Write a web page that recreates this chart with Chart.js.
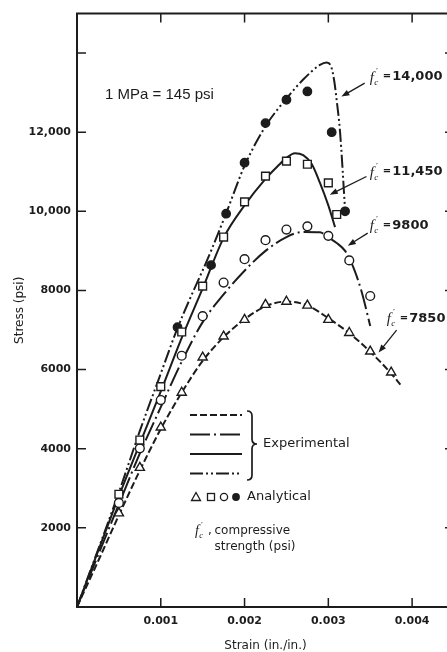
<!DOCTYPE html>
<html>
<head>
<meta charset="utf-8">
<script src="https://cdn.jsdelivr.net/npm/chart.js@4.4.1/dist/chart.umd.min.js"></script>
<style>
  html, body { margin: 0; padding: 0; background: #fff; overflow: hidden; }
  #wrap { width: 470px; height: 652px; }
</style>
</head>
<body>
<div id="wrap"><canvas id="chart" width="470" height="652"></canvas></div>
<script>
// Experimental curves: strain (in./in.) vs stress (psi), one pair per concrete strength
const strain7850 = [0, 0.00025, 0.0005, 0.00075, 0.001, 0.00125, 0.0015, 0.00175, 0.002, 0.00225, 0.0025, 0.00275, 0.003, 0.00325, 0.0035, 0.00375, 0.00386];
const stress7850 = [0, 1150, 2320, 3450, 4500, 5420, 6220, 6820, 7270, 7600, 7720, 7620, 7300, 6920, 6450, 5900, 5620];

const strain9800 = [0, 0.0005, 0.00075, 0.001, 0.00125, 0.0015, 0.00175, 0.002, 0.00225, 0.0025, 0.0027, 0.0029, 0.003, 0.0031, 0.0032, 0.0033, 0.0034, 0.0035];
const stress9800 = [0, 2600, 3880, 5050, 6200, 7200, 7900, 8500, 9000, 9350, 9480, 9470, 9340, 9200, 9000, 8580, 7950, 7100];

const strain11450 = [0, 0.0005, 0.00075, 0.001, 0.00125, 0.0015, 0.00175, 0.002, 0.00225, 0.0024, 0.0025, 0.0026, 0.0027, 0.0028, 0.0029, 0.003, 0.00308];
const stress11450 = [0, 2800, 4130, 5450, 6800, 8050, 9330, 10150, 10820, 11150, 11350, 11470, 11420, 11200, 10720, 10150, 9600];

const strain14000 = [0, 0.0005, 0.00075, 0.001, 0.0012, 0.0016, 0.00178, 0.002, 0.00225, 0.0025, 0.0027, 0.0029, 0.00298, 0.00303, 0.00307, 0.0031, 0.00314, 0.0032];
const stress14000 = [0, 2900, 4450, 5900, 7050, 9000, 9950, 11150, 12150, 12850, 13330, 13700, 13760, 13680, 13300, 12800, 12000, 10030];

// Analytical points
const triStrain = [0.0005, 0.00075, 0.001, 0.00125, 0.0015, 0.00175, 0.002, 0.00225, 0.0025, 0.00275, 0.003, 0.00325, 0.0035, 0.00375];
const triStress = [2370, 3520, 4540, 5420, 6310, 6840, 7260, 7640, 7720, 7620, 7260, 6930, 6460, 5930];

const sqStrain = [0.0005, 0.00075, 0.001, 0.00125, 0.0015, 0.00175, 0.002, 0.00225, 0.0025, 0.00275, 0.003, 0.0031];
const sqStress = [2850, 4220, 5570, 6950, 8110, 9350, 10240, 10890, 11270, 11190, 10720, 9920];

const circStrain = [0.0005, 0.00075, 0.001, 0.00125, 0.0015, 0.00175, 0.002, 0.00225, 0.0025, 0.00275, 0.003, 0.00325, 0.0035];
const circStress = [2630, 4010, 5230, 6350, 7350, 8200, 8790, 9270, 9540, 9620, 9380, 8760, 7860];

const dotStrain = [0.0012, 0.0016, 0.00178, 0.002, 0.00225, 0.0025, 0.00275, 0.00304, 0.0032];
const dotStress = [7070, 8640, 9940, 11230, 12230, 12820, 13030, 12000, 10000];

// Axis ticks
const xTickValues = [0, 0.001, 0.002, 0.003, 0.004];
const yTickValues = [0, 2000, 4000, 6000, 8000, 10000, 12000, 14000];

// Curve labels: strength text, label anchor (strain, stress), arrow tail and tip
const curveLabels = ["14,000", "11,450", "9800", "7850"];
const labelAt = [[0.003495, 13400], [0.003495, 11000], [0.003495, 9650], [0.0036975, 7300]];
const arrowTail = [[0.003434, 13240], [0.003455, 10880], [0.00347, 9450], [0.003815, 7000]];
const arrowTip = [[0.003156, 12900], [0.003017, 10420], [0.003232, 9130], [0.0036, 6430]];

const INK = "#1c1c1c";

const toXY = (xs, ys) => xs.map((x, i) => ({ x, y: ys[i] }));

function curve(xs, ys, dash) {
    return {
        data: toXY(xs, ys),
        showLine: true,
        borderColor: INK,
        borderWidth: 2,
        borderDash: dash,
        pointRadius: 0,
        cubicInterpolationMode: "monotone",
        order: 2,
    };
}

function markers(xs, ys, style, radius, fill) {
    return {
        data: toXY(xs, ys),
        showLine: false,
        pointStyle: style,
        pointRadius: radius,
        pointBackgroundColor: fill,
        pointBorderColor: INK,
        pointBorderWidth: 1.4,
        order: 1,
    };
}

const DASH_7850 = [7, 3];
const DASH_9800 = [20, 4, 2, 4];
const DASH_14000 = [13, 3, 2, 3, 2, 3];

// italic f with prime and subscript c
function drawFc(ctx, x, y, size) {
    ctx.save();
    ctx.textAlign = "left";
    ctx.textBaseline = "alphabetic";
    const base = y + size * 0.33;
    ctx.font = `italic ${size}px "Liberation Serif"`;
    ctx.fillText("f", x, base);
    ctx.font = `${size * 0.6}px "DejaVu Sans"`;
    ctx.fillText("\u2032", x + size * 0.42, base - size * 0.45);
    ctx.font = `italic ${size * 0.6}px "Liberation Serif"`;
    ctx.fillText("c", x + size * 0.3, base + size * 0.2);
    ctx.restore();
}

function drawArrow(ctx, x1, y1, x2, y2) {
    const ang = Math.atan2(y2 - y1, x2 - x1);
    const len = 8, hw = 3;
    ctx.beginPath();
    ctx.moveTo(x1, y1);
    ctx.lineTo(x2 - Math.cos(ang) * len * 0.8, y2 - Math.sin(ang) * len * 0.8);
    ctx.stroke();
    ctx.beginPath();
    ctx.moveTo(x2, y2);
    ctx.lineTo(x2 - Math.cos(ang) * len - Math.sin(ang) * hw, y2 - Math.sin(ang) * len + Math.cos(ang) * hw);
    ctx.lineTo(x2 - Math.cos(ang) * len + Math.sin(ang) * hw, y2 - Math.sin(ang) * len - Math.cos(ang) * hw);
    ctx.closePath();
    ctx.fill();
}

// frame, inward tick marks, curve labels and the key
const decorations = {
    id: "decorations",
    afterDraw(chart) {
        const { ctx, chartArea: ca, scales } = chart;
        const X = (v) => scales.x.getPixelForValue(v);
        const Y = (v) => scales.y.getPixelForValue(v);
        ctx.save();
        ctx.strokeStyle = INK;
        ctx.fillStyle = INK;

        // frame
        ctx.lineWidth = 2;
        ctx.strokeRect(ca.left, ca.top, ca.right - ca.left, ca.bottom - ca.top);

        // inward ticks on all four sides
        ctx.lineWidth = 1.5;
        const tl = 9;
        ctx.beginPath();
        scales.x.ticks.forEach((t) => {
            if (t.value === 0) return;
            const px = X(t.value);
            ctx.moveTo(px, ca.bottom);
            ctx.lineTo(px, ca.bottom - tl);
            ctx.moveTo(px, ca.top);
            ctx.lineTo(px, ca.top + tl);
        });
        scales.y.ticks.forEach((t) => {
            if (t.value === 0) return;
            const py = Y(t.value);
            ctx.moveTo(ca.left, py);
            ctx.lineTo(ca.left + tl, py);
            ctx.moveTo(ca.right, py);
            ctx.lineTo(ca.right - tl, py);
        });
        ctx.stroke();

        // unit note
        ctx.textBaseline = "middle";
        ctx.textAlign = "left";
        ctx.font = '15px "Liberation Sans"';
        ctx.fillText("1 MPa = 145 psi", ca.left + 28, ca.top + 81);

        // curve labels with arrows
        ctx.lineWidth = 1.3;
        curveLabels.forEach((txt, i) => {
            const lx = X(labelAt[i][0]);
            const ly = Y(labelAt[i][1]);
            drawFc(ctx, lx, ly, 15);
            ctx.textBaseline = "middle";
            ctx.font = 'bold 10px "DejaVu Sans"';
            ctx.fillText("=", lx + 13, ly);
            ctx.font = 'bold 13px "DejaVu Sans"';
            ctx.fillText(txt, lx + 22.5, ly);
            drawArrow(ctx, X(arrowTail[i][0]), Y(arrowTail[i][1]), X(arrowTip[i][0]), Y(arrowTip[i][1]));
        });

        // key: line styles for experimental curves
        const kx0 = ca.left + 113, kx1 = ca.left + 165;
        const rows = [ca.top + 401.5, ca.top + 421, ca.top + 440.5, ca.top + 460];
        const dashes = [DASH_7850, DASH_9800, [], DASH_14000];
        ctx.lineWidth = 2;
        rows.forEach((ry, i) => {
            ctx.setLineDash(dashes[i]);
            ctx.beginPath();
            ctx.moveTo(kx0, ry);
            ctx.lineTo(kx1, ry);
            ctx.stroke();
        });
        ctx.setLineDash([]);

        // brace
        const bx = ca.left + 170, bt = ca.top + 397.5, bb = ca.top + 466.5, bm = ca.top + 430.5;
        ctx.lineWidth = 1.7;
        ctx.beginPath();
        ctx.moveTo(bx, bt);
        ctx.quadraticCurveTo(bx + 5, bt, bx + 5, bt + 5);
        ctx.lineTo(bx + 5, bm - 5);
        ctx.quadraticCurveTo(bx + 5, bm, bx + 10, bm);
        ctx.quadraticCurveTo(bx + 5, bm, bx + 5, bm + 5);
        ctx.lineTo(bx + 5, bb - 5);
        ctx.quadraticCurveTo(bx + 5, bb, bx, bb);
        ctx.stroke();

        ctx.font = '13px "DejaVu Sans"';
        ctx.textBaseline = "middle";
        ctx.fillText("Experimental", ca.left + 186, bm);

        // key: analytical symbols
        const sy = ca.top + 483.5;
        ctx.lineWidth = 1.3;
        const tx = ca.left + 119;
        ctx.beginPath();
        ctx.moveTo(tx, sy - 4.5);
        ctx.lineTo(tx + 4.5, sy + 3.5);
        ctx.lineTo(tx - 4.5, sy + 3.5);
        ctx.closePath();
        ctx.stroke();
        ctx.strokeRect(ca.left + 130.5, sy - 3.5, 7, 7);
        ctx.beginPath();
        ctx.arc(ca.left + 147, sy, 3.6, 0, Math.PI * 2);
        ctx.stroke();
        ctx.beginPath();
        ctx.arc(ca.left + 159, sy, 3.9, 0, Math.PI * 2);
        ctx.fill();
        ctx.fillText("Analytical", ca.left + 170, sy);

        // key: notation
        drawFc(ctx, ca.left + 118, ca.top + 517, 14);
        ctx.font = '12px "DejaVu Sans"';
        ctx.fillText(",", ca.left + 131, ca.top + 517);
        ctx.fillText("compressive", ca.left + 137.5, ca.top + 517);
        ctx.fillText("strength (psi)", ca.left + 137.5, ca.top + 533.5);

        ctx.restore();
    },
};

const tickFont = { family: "DejaVu Sans", size: 11, weight: "bold" };
const titleFont = { family: "DejaVu Sans", size: 12 };

new Chart(document.getElementById("chart"), {
    type: "scatter",
    data: {
        datasets: [
            curve(strain7850, stress7850, DASH_7850),
            curve(strain9800, stress9800, DASH_9800),
            curve(strain11450, stress11450, []),
            curve(strain14000, stress14000, DASH_14000),
            markers(triStrain, triStress, "triangle", 5.3, "#fff"),
            markers(sqStrain, sqStress, "rect", 5.5, "#fff"),
            markers(circStrain, circStress, "circle", 4.4, "#fff"),
            markers(dotStrain, dotStress, "circle", 4.2, INK),
        ],
    },
    options: {
        responsive: false,
        animation: false,
        devicePixelRatio: 1,
        layout: { padding: { top: 13.5, right: 16, left: 0, bottom: 0 } },
        plugins: { legend: { display: false }, tooltip: { enabled: false } },
        scales: {
            x: {
                type: "linear",
                min: 0,
                max: 0.0045,
                grid: { display: false, drawTicks: false },
                border: { display: false },
                afterBuildTicks: (s) => { s.ticks = xTickValues.map((value) => ({ value })); },
                ticks: {
                    maxRotation: 0,
                    autoSkip: false,
                    padding: 8,
                    color: INK,
                    font: tickFont,
                    callback: (v) => (v === 0 ? "" : v.toFixed(3)),
                },
                title: { display: true, text: "Strain (in./in.)", color: INK, font: titleFont, padding: { top: 0, bottom: -1 } },
                afterFit: (s) => { s.height = 45; },
            },
            y: {
                type: "linear",
                min: 0,
                max: 15000,
                grid: { display: false, drawTicks: false },
                border: { display: false },
                afterBuildTicks: (s) => { s.ticks = yTickValues.map((value) => ({ value })); },
                ticks: {
                    autoSkip: false,
                    padding: 6,
                    color: INK,
                    font: tickFont,
                    callback: (v) => (v === 0 || v >= 14000 ? "" : v >= 10000 ? v.toLocaleString("en-US") : String(v)),
                },
                title: { display: true, text: "Stress (psi)", color: INK, font: titleFont, padding: { top: 13, bottom: 0 } },
                afterFit: (s) => { s.width = 77; },
            },
        },
    },
    plugins: [decorations],
});
</script>
</body>
</html>
